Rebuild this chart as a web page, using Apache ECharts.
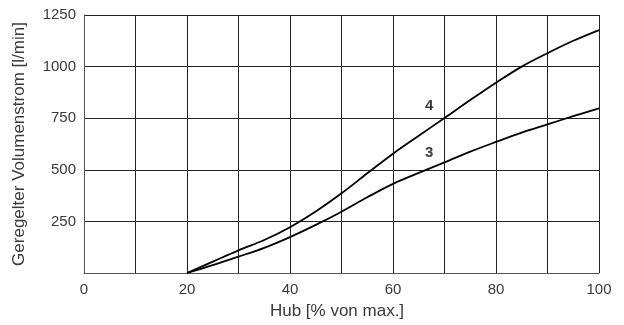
<!DOCTYPE html>
<html>
<head>
<meta charset="utf-8">
<script src="https://cdn.jsdelivr.net/npm/echarts@6/dist/echarts.min.js"></script>
<style>
  html, body { margin: 0; padding: 0; background: #fff; }
  #chart { width: 624px; height: 325px; }
</style>
</head>
<body>
<div id="chart"></div>
<script>
// Hub in % of maximum stroke
const hub = [20, 25, 30, 35, 40, 45, 50, 55, 60, 65, 70, 75, 80, 85, 90, 95, 100];
// Regulated flow [l/min], curve 4
const flow4 = [0, 55, 110, 160, 222, 298, 386, 483, 578, 665, 751, 838, 922, 1000, 1065, 1125, 1177];
// Regulated flow [l/min], curve 3
const flow3 = [0, 38, 79, 122, 174, 233, 297, 367, 432, 485, 536, 588, 635, 680, 720, 760, 798];
// Curve tags and where they sit
const curveNames = ['4', '3'];
const tagPos = [[67, 812], [67, 584]];

const font = 'Liberation Sans, Arial, sans-serif';
const textColor = '#3a3a3a';

const chart = echarts.init(document.getElementById('chart'), null, { renderer: 'canvas' });

function pairs(xs, ys) { return xs.map((x, i) => [x, ys[i]]); }

function curve(name, values, tag) {
  return {
    name: name,
    type: 'line',
    data: pairs(hub, values),
    smooth: 0.35,
    symbol: 'none',
    lineStyle: { color: '#000', width: 1.8 },
    z: 5,
    markPoint: {
      symbol: 'circle',
      symbolSize: 0,
      data: [{ coord: tag, value: name }],
      label: {
        show: true,
        formatter: name,
        color: textColor,
        fontFamily: font,
        fontWeight: 'bold',
        fontSize: 15,
        position: 'inside'
      }
    }
  };
}

chart.setOption({
  animation: false,
  backgroundColor: '#fff',
  grid: { left: 84, right: 25, top: 15, bottom: 52, containLabel: false },
  xAxis: {
    type: 'value',
    min: 0, max: 100, interval: 10,
    name: 'Hub [% von max.]',
    nameLocation: 'middle',
    nameGap: 30,
    nameTextStyle: { color: textColor, fontFamily: font, fontSize: 17, padding: [0, 9, 0, 0] },
    axisLine: { show: true, lineStyle: { color: '#555', width: 1 } },
    axisTick: { show: false },
    axisLabel: {
      color: textColor, fontFamily: font, fontSize: 15, margin: 9,
      formatter: v => (v % 20 === 0 ? String(v) : '')
    },
    splitLine: { show: true, lineStyle: { color: '#222', width: 1 } }
  },
  yAxis: {
    type: 'value',
    min: 0, max: 1250, interval: 250,
    name: 'Geregelter Volumenstrom [l/min]',
    nameLocation: 'middle',
    nameGap: 56,
    nameTextStyle: { color: textColor, fontFamily: font, fontSize: 17 },
    axisLine: { show: true, lineStyle: { color: '#555', width: 1 } },
    axisTick: { show: false },
    axisLabel: {
      color: textColor, fontFamily: font, fontSize: 15, margin: 8,
      formatter: v => (v === 0 ? '' : String(v))
    },
    splitLine: { show: true, lineStyle: { color: '#222', width: 1 } }
  },
  series: [
    curve(curveNames[0], flow4, tagPos[0]),
    curve(curveNames[1], flow3, tagPos[1])
  ]
});
</script>
</body>
</html>
